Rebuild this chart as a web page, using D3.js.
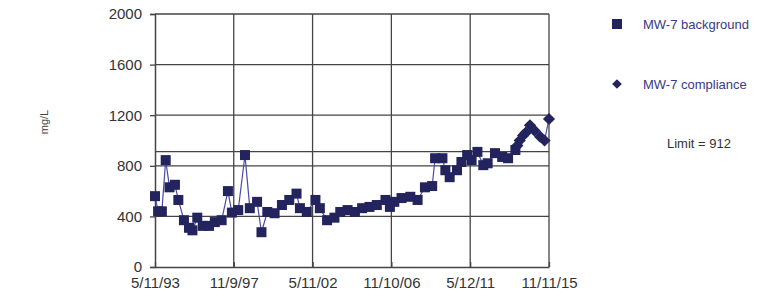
<!DOCTYPE html>
<html>
<head>
<meta charset="utf-8">
<script src="https://cdn.jsdelivr.net/npm/d3@7"></script>
<style>
  body { margin: 0; background: #fff; }
  text { font-family: "Liberation Sans", Arial, sans-serif; }
</style>
</head>
<body>
<div id="chart"></div>
<script>
// sample dates and values
const bgDates = ["1993-05-11","1993-07-15","1993-10-01","1993-12-20","1994-03-10","1994-07-01","1994-09-10",
  "1995-01-05","1995-04-20","1995-07-01","1995-10-10","1996-02-01","1996-06-10","1996-10-10","1997-03-01",
  "1997-07-10","1997-10-01","1998-02-10","1998-07-01","1998-10-10","1999-03-10","1999-06-10","1999-10-10",
  "2000-03-10","2000-08-10","2001-01-10","2001-06-10","2001-08-20","2002-01-10","2002-07-10","2002-10-10",
  "2003-03-10","2003-08-10","2003-12-10","2004-05-10","2004-10-10","2005-03-10","2005-08-10","2006-01-10",
  "2006-07-10","2006-10-10","2007-01-10","2007-06-10","2007-12-10","2008-05-10","2008-10-10","2009-03-10",
  "2009-05-10","2009-10-10","2009-12-10","2010-03-10","2010-08-10","2010-11-10","2011-03-10","2011-06-10",
  "2011-10-10","2012-02-10","2012-05-10","2012-10-10","2013-03-10","2013-07-10","2013-12-10"];
const bgValues = [560, 440, 440, 845, 630, 650, 530,
  370, 310, 290, 390, 325, 325, 355, 370,
  600, 430, 450, 885, 465, 515, 275, 435,
  425, 490, 530, 580, 465, 435, 530, 465,
  370, 390, 435, 450, 435, 465, 475, 490,
  530, 475, 515, 545, 555, 530, 630, 640,
  860, 860, 765, 710, 765, 830, 885, 845,
  910, 805, 820, 900, 870, 860, 925];

const compDates = ["2014-01-20","2014-03-10","2014-05-20","2014-07-10","2014-10-10","2015-01-10","2015-05-10","2015-08-10","2015-11-11"];
const compValues = [960, 1000, 1040, 1060, 1120, 1080, 1030, 1000, 1170];

const xTickLabels = ["5/11/93","11/9/97","5/11/02","11/10/06","5/12/11","11/11/15"];
const yTicks = [0, 400, 800, 1200, 1600, 2000];
const limit = 912;

const w = 768, h = 298;
const mLeft = 155, mRight = 549, mTop = 14, mBottom = 267;

const parse = d3.timeParse("%Y-%m-%d");
const parseTick = d3.timeParse("%m/%d/%y");
const tickDates = xTickLabels.map(parseTick);

const x = d3.scaleTime()
  .domain([tickDates[0], tickDates[tickDates.length - 1]])
  .range([mLeft, mRight]);
const y = d3.scaleLinear().domain([0, 2000]).range([mBottom, mTop]);

const svg = d3.select("#chart").append("svg")
  .attr("width", w).attr("height", h);

const gridColor = "#444";

// horizontal grid + limit
svg.selectAll("line.hgrid")
  .data(yTicks.slice(1).concat([limit]))
  .enter().append("line")
  .attr("x1", mLeft).attr("x2", mRight)
  .attr("y1", d => y(d)).attr("y2", d => y(d))
  .attr("stroke", gridColor).attr("stroke-width", 1.3);

// vertical grid
svg.selectAll("line.vgrid")
  .data(tickDates.slice(1))
  .enter().append("line")
  .attr("x1", d => x(d)).attr("x2", d => x(d))
  .attr("y1", mTop).attr("y2", mBottom)
  .attr("stroke", gridColor).attr("stroke-width", 1.3);

// y axis
const yAxis = svg.append("g")
  .attr("transform", `translate(${mLeft},0)`)
  .call(d3.axisLeft(y).tickValues(yTicks).tickSize(5).tickPadding(8).tickFormat(d3.format("d")));
yAxis.selectAll("text").attr("font-size", 15).attr("fill", "#333")
  .style("font-family", "Liberation Sans, Arial, sans-serif");

// x axis
const xAxis = svg.append("g")
  .attr("transform", `translate(0,${mBottom})`)
  .call(d3.axisBottom(x).tickValues(tickDates).tickSize(0).tickPadding(10)
    .tickFormat((d, i) => xTickLabels[i]));
xAxis.selectAll("text").attr("font-size", 15).attr("fill", "#333")
  .style("font-family", "Liberation Sans, Arial, sans-serif");
xAxis.selectAll(".tick line").attr("y2", -5);

svg.selectAll(".domain").attr("stroke", gridColor).attr("stroke-width", 1.5);
svg.selectAll(".tick line").attr("stroke", gridColor).attr("stroke-width", 1.3);

// y label
svg.append("text")
  .attr("transform", "translate(48,122) rotate(-90)")
  .attr("text-anchor", "middle")
  .attr("font-size", 11).attr("fill", "#444")
  .text("mg/L");

const lineColor = "#4a4aa8";
const markColor = "#23235e";

const bg = bgDates.map((d, i) => ({ date: parse(d), value: bgValues[i] }));
const comp = compDates.map((d, i) => ({ date: parse(d), value: compValues[i] }));

const line = d3.line().x(d => x(d.date)).y(d => y(d.value));

svg.append("path").datum(bg)
  .attr("d", line).attr("fill", "none")
  .attr("stroke", lineColor).attr("stroke-width", 1.2);
svg.append("path").datum(comp)
  .attr("d", line).attr("fill", "none")
  .attr("stroke", lineColor).attr("stroke-width", 1.2);

const sq = 10;
svg.selectAll("rect.bg")
  .data(bg).enter().append("rect")
  .attr("x", d => x(d.date) - sq / 2)
  .attr("y", d => y(d.value) - sq / 2)
  .attr("width", sq).attr("height", sq)
  .attr("fill", markColor);

const diamond = d3.symbol().type(d3.symbolDiamond2).size(95);
svg.selectAll("path.comp")
  .data(comp).enter().append("path")
  .attr("d", diamond)
  .attr("transform", d => `translate(${x(d.date)},${y(d.value)})`)
  .attr("fill", markColor);

// legend
svg.append("rect")
  .attr("x", 612).attr("y", 19).attr("width", 10).attr("height", 10)
  .attr("fill", markColor);
svg.append("text")
  .attr("x", 643).attr("y", 29)
  .attr("font-size", 13).attr("fill", "#3a3a86")
  .text("MW-7 background");

svg.append("path")
  .attr("d", d3.symbol().type(d3.symbolDiamond2).size(60))
  .attr("transform", "translate(617,84)")
  .attr("fill", markColor);
svg.append("text")
  .attr("x", 643).attr("y", 89)
  .attr("font-size", 13).attr("fill", "#3a3a86")
  .text("MW-7 compliance");

svg.append("text")
  .attr("x", 667).attr("y", 148)
  .attr("font-size", 13).attr("fill", "#333")
  .text("Limit = " + limit);
</script>
</body>
</html>
